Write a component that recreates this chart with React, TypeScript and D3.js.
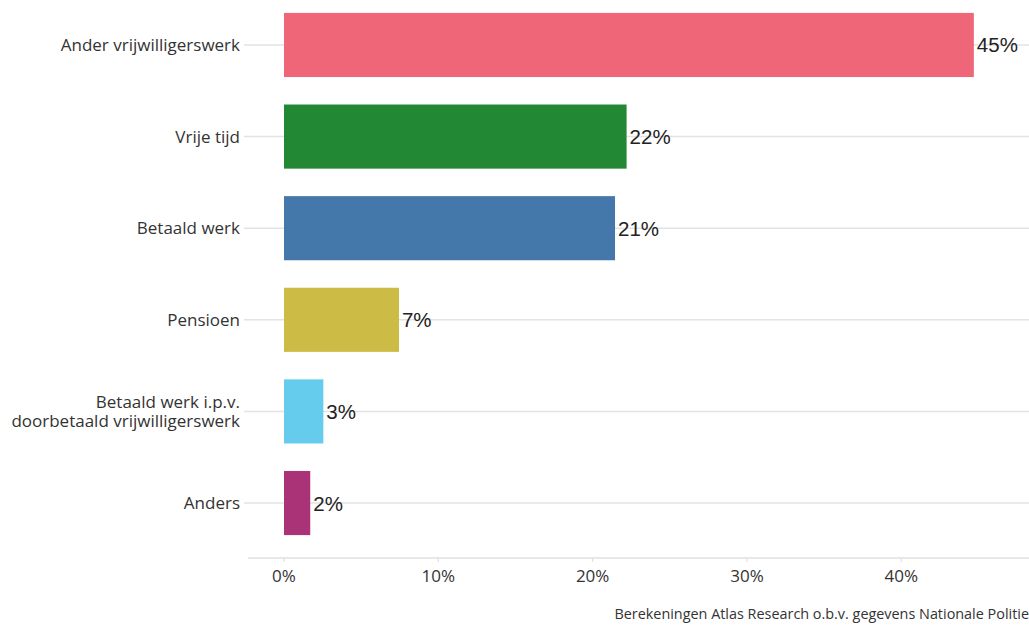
import React from "react";
import * as d3 from "d3";

const categories = [
  "Ander vrijwilligerswerk",
  "Vrije tijd",
  "Betaald werk",
  "Pensioen",
  "Betaald werk i.p.v.\ndoorbetaald vrijwilligerswerk",
  "Anders",
];
const values = [0.447, 0.222, 0.2145, 0.0745, 0.0255, 0.017];
const colors = ["#EE6677", "#228833", "#4477AA", "#CCBB44", "#66CCEE", "#AA3377"];
const xTicks = [0, 0.1, 0.2, 0.3, 0.4];
const source = "Berekeningen Atlas Research o.b.v. gegevens Nationale Politie";

const W = 1029;
const H = 625;
const FONT = "'Open Sans', sans-serif";

export default function App() {
  const x = d3.scaleLinear().domain([0, 0.4]).range([284, 901.3]);
  const y = d3
    .scaleBand<string>()
    .domain(categories)
    .range([-10, 558])
    .paddingInner(0.3)
    .paddingOuter(0.25);
  const axisY = 558;
  const left = 248;
  const fmt = d3.format(".0%");

  return (
    <svg
      width={W}
      height={H}
      style={{ position: "absolute", left: 0, top: 0, background: "#fff" }}
    >
      {categories.map((c) => {
        const cy = (y(c) as number) + y.bandwidth() / 2;
        return (
          <line key={"g" + c} x1={244} x2={W} y1={cy} y2={cy} stroke="#e3e3e3" strokeWidth={1.5} />
        );
      })}
      <line x1={left} x2={W} y1={axisY} y2={axisY} stroke="#e0e0e0" strokeWidth={1.5} />
      {xTicks.map((t) => (
        <g key={"t" + t}>
          <line x1={x(t)} x2={x(t)} y1={axisY} y2={axisY + 4} stroke="#e0e0e0" strokeWidth={1.2} />
          <text
            x={x(t)}
            y={575}
            textAnchor="middle"
            dominantBaseline="central"
            fontFamily={FONT}
            fontSize={17}
            fill="#333"
          >
            {d3.format(".0%")(t)}
          </text>
        </g>
      ))}
      {categories.map((c, i) => {
        const y0 = y(c) as number;
        const bw = y.bandwidth();
        const cy = y0 + bw / 2;
        const lines = c.split("\n");
        return (
          <g key={c}>
            <rect x={x(0)} y={y0} width={x(values[i]) - x(0)} height={bw} fill={colors[i]} />
            <text
              x={x(values[i]) + 3}
              y={cy}
              dominantBaseline="central"
              fontFamily="'Liberation Sans', Arial, sans-serif"
              fontSize={20.5}
              fill="#222"
            >
              {fmt(values[i])}
            </text>
            <text
              x={240}
              y={cy}
              textAnchor="end"
              fontFamily={FONT}
              fontSize={17}
              fill="#333"
            >
              {lines.map((l, k) => (
                <tspan
                  key={k}
                  x={240}
                  dy={k === 0 ? `${-(lines.length - 1) * 9.5 + 6}px` : "19px"}
                >
                  {l}
                </tspan>
              ))}
            </text>
          </g>
        );
      })}
      <text
        x={W}
        y={619}
        textAnchor="end"
        fontFamily={FONT}
        fontSize={14.4}
        fill="#333"
      >
        {source}
      </text>
    </svg>
  );
}
